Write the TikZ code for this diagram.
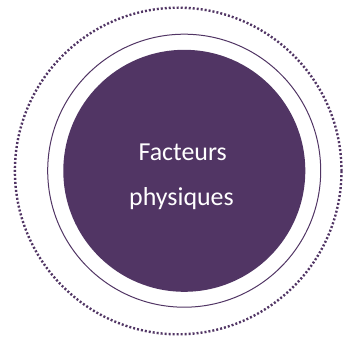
\documentclass[tikz,border=0pt]{standalone}
\usepackage{fontspec}
\setmainfont{Carlito}
\usepackage{xcolor}
\definecolor{plum}{RGB}{81,53,100}

\begin{document}
\begin{tikzpicture}[x=1bp,y=1bp]
\tikzstyle{every node}+=[inner sep=0pt]
\tikzstyle{label text}=[text=white,font=\fontsize{26}{30}\selectfont,anchor=base]
\useasboundingbox (0,0) rectangle (348,343);
\draw [plum,line width=2.4bp,dash pattern=on 2bp off 2bp] (178.2,172) circle (163.3);
\draw [plum,line width=1bp] (184.2,172.3) circle (136.5);
\node (core) [circle,fill=plum,minimum size=242bp] at (184.3,172.2) {};
\node (line1) [label text] at ([xshift=-1.6bp,yshift=10.8bp]core.center) {Facteurs};
\node (line2) [label text] at ([xshift=-2.8bp,yshift=-34.2bp]core.center) {physiques};
\end{tikzpicture}
\end{document}
